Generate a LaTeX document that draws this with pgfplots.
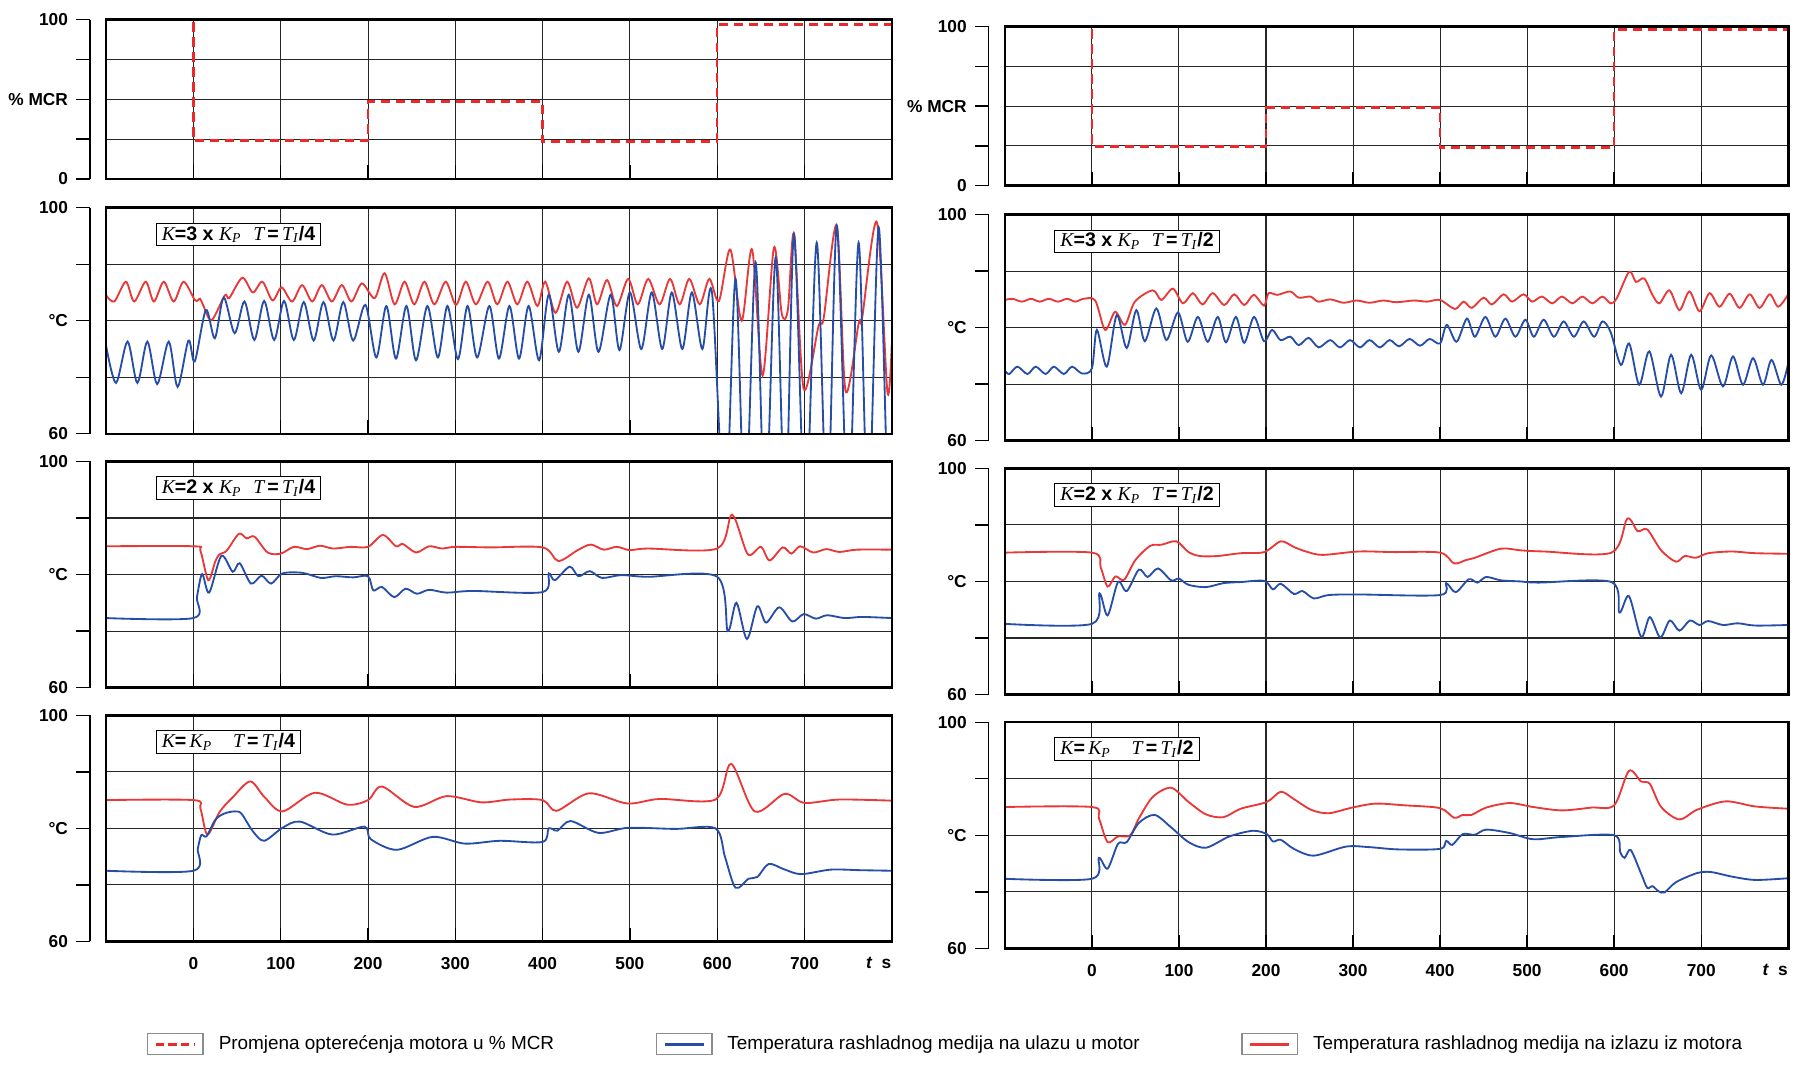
\documentclass[border=0pt]{standalone}
\usepackage{fontspec}
\setmainfont{Liberation Sans}
\newfontfamily\tnr{Liberation Serif}
\usepackage{pgfplots}
\pgfplotsset{compat=1.18}
\definecolor{cred}{RGB}{232,56,56}
\definecolor{cblue}{RGB}{38,78,168}
\definecolor{cload}{RGB}{238,40,40}
\newcommand{\Kk}{{\tnr\mdseries\itshape K}}
\newcommand{\Kp}{{\tnr\mdseries\itshape K\textsubscript{P}}}
\newcommand{\Tt}{{\tnr\mdseries\itshape T}}
\newcommand{\Ti}{{\tnr\mdseries\itshape T\textsubscript{I}}}
\pgfplotsset{
  panel/.style={
    scale only axis,
    xmin=-100, xmax=800,
    axis x line=bottom, axis y line=left,
    axis y line shift=7pt,
    x axis line style={draw=none},
    y axis line style={-, black, line width=0.6pt},
    xtick={0,100,...,700}, xticklabels={},
    xtick align=inside, ytick align=outside,
    major tick length=6pt,
    tick style={black, line width=0.6pt},
    xmajorgrids, ymajorgrids,
    major grid style={black!85, line width=0.45pt},
    tick label style={font=\fontsize{7.5}{9}\selectfont\bfseries},
    xticklabel style={yshift=-3.5pt},
    extra description/.code={\draw[black, line width=1.1pt] (0,0) rectangle (1,1);},
    every axis plot/.append style={line width=0.8pt},
  },
  tpanel/.style={panel, height=98pt, ymin=60, ymax=100, ytick={60,70,80,90,100}, yticklabels={60,,°C,,100}},
  lpanel/.style={panel, height=69pt, ymin=0, ymax=100, ytick={0,25,50,75,100}, yticklabels={0,,\% MCR,,100}},
  bottomrow/.style={xticklabels={0,100,200,300,400,500,600,700},
    extra x ticks={785}, extra x tick labels={{\itshape t}\ \ s},
    extra x tick style={grid=none, major tick length=0pt, tick style={draw=none}}},
}
\tikzset{tline/.style={smooth, tension=0.5, line width=0.8pt},
  anno/.style={draw=black, line width=0.4pt, fill=white, anchor=north west, inner xsep=2.5pt, inner ysep=1.2pt, font=\fontsize{8.5}{10}\selectfont\bfseries}}
\begin{document}
\begin{tikzpicture}
% ================= LEFT COLUMN =================
\begin{axis}[lpanel, width=340.5pt, at={(46pt,-8.5pt)}, anchor=north west]
\addplot[cload, line width=1.1pt, dash pattern=on 4pt off 2.5pt] coordinates {(-100,100)(0,100)(0,24)(200,24)(200,48.5)(400,48.5)(400,23.5)(600,23.5)(600,97)(800,97)};
\end{axis}

\begin{axis}[tpanel, width=340.5pt, at={(46pt,-90pt)}, anchor=north west]
\addplot[cred, tline] coordinates {(-100,84.5)(-90.6,83.4)(-77.4,86.9)(-67.9,83.4)(-54.7,86.9)(-45.3,83.4)(-34,86.9)(-22.6,83.4)(-11.3,86.9)(2,83.6)(7.5,83.9)(11,82.8)(20.8,80.1)(36,84.5)(41,84)(56,87.6)(68,85)(79,86.9)(90.6,83.6)(101,85.9)(113,83.4)(124.5,86.3)(136,83.4)(147,86.3)(158.5,83.4)(170,86.3)(181,83.4)(193,86.6)(207.6,84)(219,88.4)(230.4,82.9)(241.8,86.9)(253,82.9)(264.6,86.9)(276,82.9)(289,86.9)(300.8,82.8)(312,86.9)(323.6,82.9)(337,86.9)(348,82.9)(359.7,86.9)(371,82.9)(382.5,86.9)(394,82.6)(403,86.9)(414.8,81.4)(428,86.9)(439.5,82.3)(452.9,87.5)(462.4,82.9)(473.8,87.2)(485,82.6)(498,87.4)(509,82.9)(521,87.4)(534,82.9)(546,87.4)(557,82.9)(568,87.4)(580,82.9)(591,87.4)(602,83.5)(615,92.6)(628,80)(640,92.6)(652,70.3)(665,92.9)(674,81.2)(681,82)(688,95.3)(699,68)(716,79)(722,80.5)(737,96.8)(747,67.6)(762,79.5)(766,80.5)(783,97.4)(795,67.4)(800,76)};
\addplot[cblue, tline] coordinates {(-100,75.5)(-88.7,69.0)(-75.5,76.3)(-64.2,69)(-52.8,76.3)(-41.5,68.8)(-28.3,76.3)(-18.1,68.3)(-5.7,76.5)(1.5,72.8)(14.3,81.9)(24.5,76.9)(34.7,84.1)(47.2,77.8)(58.5,83.4)(69.8,76.6)(81,83.5)(92.5,76.6)(103.8,83.5)(115,76.6)(126.4,83.3)(137.7,76.5)(149,83.3)(160.4,76.5)(171.7,83.3)(183,76.5)(197,82.8)(209.5,73.5)(221,82.6)(232,73.3)(244,82.6)(255,73.0)(268,82.6)(280,73.5)(291,82.6)(303,73.2)(314,82.6)(325,73.5)(339,82.6)(350,73.3)(362,82.6)(373,73.3)(384,82.6)(396,73.0)(407,84.6)(418.6,74.5)(430,84.6)(441,74.5)(453,84.6)(464,74.5)(478,84.6)(488,74.8)(500,85)(513,75)(525,85)(537,75)(548,85)(560,75)(571,85)(583,75)(594,85)(609,45)(621,87.4)(632,45)(644,90.3)(655,45)(667,91.2)(678,45)(688,95.3)(701,45)(714,93.8)(726,45)(737,96.8)(750,45)(762,93.8)(773,45)(785,96.5)(796,45)(800,52)};
\node[anno] at (rel axis cs:0.063,0.934) {\Kk=3 x \Kp\hspace{5pt}\Tt\,=\,\Ti/4};
\end{axis}

\begin{axis}[tpanel, width=340.5pt, at={(46pt,-200pt)}, anchor=north west]
\addplot[cred, tline] coordinates {(-100,85)(0,85)(8,84.2)(17,79.0)(25,82.3)(30,83.6)(38,84.2)(52,87.2)(61,86.4)(70,86.7)(85,83.9)(100,83.7)(115,84.9)(130,84.5)(145,85.1)(160,84.6)(180,84.9)(200,84.9)(217,87.0)(232,85.0)(240,85.4)(255,83.9)(270,85.0)(285,84.6)(300,84.9)(340,84.8)(400,84.8)(418,82.4)(440,84.3)(455,85.3)(470,84.4)(485,84.9)(500,84.3)(520,84.6)(600,84.6)(617,90.6)(635,83.6)(650,84.9)(660,82.5)(675,84.8)(685,83.7)(695,85.0)(710,83.9)(725,84.5)(740,84.0)(760,84.4)(800,84.4)};
\addplot[cblue, tline] coordinates {(-100,72.3)(0,72.3)(4,76)(10,80.1)(18,76.8)(32,83.3)(45,80.5)(53,82.0)(66,78.4)(78,79.8)(89,78.4)(102,80.2)(125,80.3)(146,79.4)(163,79.7)(183,79.5)(200,79.7)(206,77.2)(216,77.8)(230,76.0)(243,77.5)(256,76.6)(270,77.3)(290,76.8)(320,77.1)(400,76.9)(407,80.2)(414,79.0)(431,81.4)(441,79.7)(454,80.6)(468,79.4)(490,79.9)(520,79.6)(600,79.6)(612,70.0)(622,75.0)(634,68.6)(646,74.4)(656,71.5)(671,74.2)(686,71.7)(699,73.0)(713,72.2)(726,72.8)(746,72.3)(766,72.5)(800,72.3)};
\node[anno] at (rel axis cs:0.063,0.934) {\Kk=2 x \Kp\hspace{5pt}\Tt\,=\,\Ti/4};
\end{axis}

\begin{axis}[tpanel, bottomrow, width=340.5pt, at={(46pt,-310pt)}, anchor=north west,
  legend style={at={(0.0514,-0.454)}, anchor=west, draw=none, fill=none, inner sep=0pt, legend columns=3,
    font=\fontsize{8.2}{9.8}\selectfont,
    /tikz/every odd column/.append style={column sep=4.5pt},
    /tikz/every even column/.append style={column sep=42pt}},
  legend image code/.code={\draw[black!45, line width=0.6pt, fill=white, solid] (0pt,-4.5pt) rectangle (24pt,4.5pt); \draw[#1, line width=1.3pt] (3.5pt,0pt) -- (20.5pt,0pt);}]
\addplot[cred, tline, forget plot] coordinates {(-100,85)(0,85)(8,83.5)(16,78.9)(30,82.9)(45,85.5)(65,88.3)(81,85.6)(102,83.0)(139,86.3)(176,84.2)(200,85.0)(216,87.4)(253,83.8)(290,85.7)(330,84.6)(363,85.1)(400,85.0)(416,83.1)(453,86.2)(497,84.4)(534,85.2)(598,85.1)(616,91.4)(643,83.0)(677,86.1)(700,84.5)(740,85.1)(800,84.9)};
\addplot[cblue, tline, forget plot] coordinates {(-100,72.5)(0,72.5)(5,76.4)(9,78.8)(15,78.6)(25,81.5)(35,82.6)(47,83.0)(55,82.6)(68,79.5)(81,77.8)(102,80.1)(122,81.2)(159,78.9)(196,80.3)(203,78.1)(233,76.2)(274,78.5)(311,77.3)(351,77.8)(400,77.6)(407,80.0)(417,79.6)(432,81.3)(464,79.2)(498,80.1)(552,79.9)(598,80.0)(609,74.9)(621,69.5)(636,71.1)(646,71.4)(659,73.7)(676,72.8)(696,71.9)(730,72.7)(764,72.6)(800,72.5)};
\node[anno] at (rel axis cs:0.063,0.934) {\Kk=\,\Kp\hspace{9pt}\Tt\,=\,\Ti/4};
\addlegendimage{cload, dash pattern=on 3.5pt off 2pt}
\addlegendentry{Promjena opterećenja motora u \% MCR}
\addlegendimage{cblue}
\addlegendentry{Temperatura rashladnog medija na ulazu u motor}
\addlegendimage{cred}
\addlegendentry{Temperatura rashladnog medija na izlazu iz motora}
\end{axis}

% ================= RIGHT COLUMN =================
\begin{axis}[lpanel, width=339.5pt, at={(435.5pt,-11.5pt)}, anchor=north west]
\addplot[cload, line width=1.1pt, dash pattern=on 4pt off 2.5pt] coordinates {(-100,100)(0,100)(0,24.5)(200,24.5)(200,49)(400,49)(400,24)(600,24)(600,98)(800,98)};
\end{axis}

\begin{axis}[tpanel, width=339.5pt, at={(435.5pt,-93pt)}, anchor=north west]
\addplot[cred, tline] coordinates {(-100,84.9)(-91,85.1)(-80.6,84.6)(-70,85.1)(-60,84.6)(-49.4,85.1)(-39,84.6)(-28.5,85.1)(-19,84.6)(-9.5,85.1)(3.8,84.8)(15.2,79.6)(26.6,82.8)(38,80.5)(49.4,84.6)(70,86.6)(79.8,84.9)(93,86.9)(104.6,84.3)(116,86.1)(127,84.1)(138.8,86.1)(152,84)(163.5,85.9)(175,84)(186,85.8)(197.7,83.9)(203,86.1)(213,85.8)(228,86.4)(237.6,85.3)(251,85.5)(260,84.6)(274,85.0)(289,84.4)(304,84.8)(319,84.4)(334.6,84.8)(350,84.5)(370,84.8)(385,84.6)(400,84.9)(417,83.3)(427,84.6)(436.5,83.5)(450,85.3)(459.6,84.1)(473,85.9)(482.7,84.6)(496,85.9)(505.8,84.6)(517,85.5)(528.8,84.3)(540,85.5)(552,84.3)(563.5,85.5)(575,84.3)(586.5,85.5)(596,84.3)(603,85.2)(617.3,89.9)(625,88.1)(634.6,88.7)(644,85.8)(652,84.3)(663.5,86.6)(675,83.1)(686.5,86.4)(698,82.9)(709.6,86.1)(721,83.7)(732.7,86.0)(744,83.5)(755.8,85.9)(767,83.5)(778.8,85.9)(788.5,83.7)(800,85.9)};
\addplot[cblue, tline] coordinates {(-100,72.4)(-95,71.8)(-85.6,73.1)(-74.1,71.8)(-64.6,73.1)(-53.2,71.8)(-43.7,73.1)(-32.3,71.8)(-22.8,73.1)(-11.4,71.9)(0,72.8)(5.7,79.6)(17.1,73.1)(28.5,82.2)(40,76.4)(51,83.1)(60.8,77.6)(74,83.4)(85.6,77.8)(98.9,82.7)(110,77.5)(121.7,81.9)(133,77.5)(144.5,81.9)(154,77.4)(165.4,81.9)(175,77.3)(186.3,81.9)(197.7,77.6)(207,79.6)(216.7,77.8)(228,78.4)(237.6,76.9)(249,78.2)(260.5,76.5)(273.8,77.8)(285,76.5)(296.6,77.8)(308,76.5)(319,77.8)(330.8,76.5)(342,77.8)(353,76.7)(365,78.0)(377,76.8)(388,78.0)(400,77.2)(407.7,80.5)(419,77.5)(430.8,81.6)(440,78.4)(452,81.9)(463.5,78.4)(475,81.6)(486.5,78.4)(498,81.4)(507.7,78.4)(519,81.4)(530.8,78.4)(542,81.1)(553.8,78.4)(565,81.1)(577,78.4)(586.5,81.1)(596,79.2)(607.7,73.4)(617.3,77.2)(628.8,69.9)(640.4,75.8)(653.8,67.8)(665.4,75.2)(677,68.4)(688.5,75.2)(700,69)(711.5,75.1)(725,69.6)(736.5,74.9)(748,69.9)(759.6,74.6)(771,69.9)(780.8,74.3)(792,69.9)(800,73.7)};
\node[anno] at (rel axis cs:0.063,0.934) {\Kk=3 x \Kp\hspace{5pt}\Tt\,=\,\Ti/2};
\end{axis}

\begin{axis}[tpanel, width=339.5pt, at={(435.5pt,-203pt)}, anchor=north west]
\addplot[cred, tline] coordinates {(-100,85.1)(0,85.1)(10,82.5)(18,79.1)(27,80.9)(37,80.3)(50,83.8)(67,86.3)(80,86.5)(97,87.1)(111,85.2)(124,84.5)(144,84.5)(171,85.0)(198,85.2)(217,87.1)(232,86.1)(246,85.3)(265,84.7)(306,85.3)(346,85.2)(400,85.1)(416,83.2)(430,83.8)(440,84.2)(470,85.8)(493,85.5)(520,85.3)(597,85.1)(615,91.1)(627,88.9)(638,89.2)(654,85.5)(671,83.5)(681,84.5)(694,84.2)(708,85.0)(735,85.3)(762,85.0)(800,84.9)};
\addplot[cblue, tline] coordinates {(-100,72.5)(0,72.5)(8.7,77.9)(18,74.0)(30,79.9)(40,78.3)(54,82.1)(64,80.8)(76,82.3)(91,80.2)(100,80.5)(111,79.4)(131,79.0)(151,79.7)(171,79.9)(198,80.1)(208,78.6)(217,79.6)(232,77.8)(242,78.3)(255,77.0)(272,77.6)(306,77.7)(400,77.6)(407,79.7)(418,78.1)(433,80.4)(443,79.8)(453,80.8)(470,80.2)(493,80.0)(513,79.8)(597,79.9)(606,74.5)(617,77.4)(631,70.2)(641,73.7)(653,70.1)(664,73.1)(675,71.3)(687,73.1)(698,72.3)(708,73.0)(725,72.3)(742,72.6)(762,72.2)(800,72.3)};
\node[anno] at (rel axis cs:0.063,0.934) {\Kk=2 x \Kp\hspace{5pt}\Tt\,=\,\Ti/2};
\end{axis}

\begin{axis}[tpanel, bottomrow, width=339.5pt, at={(435.5pt,-313pt)}, anchor=north west]
\addplot[cred, tline] coordinates {(-100,85)(0,85)(8,83)(18,78.8)(30,79.8)(44,80)(54,83.0)(70,86.8)(91,88.4)(111,85.9)(131,83.7)(151,83.2)(171,84.7)(201,85.9)(217,87.7)(232,86.4)(252,84.5)(272,83.9)(299,84.9)(326,85.6)(359,85.3)(400,84.8)(416,83.1)(426,83.6)(436,83.6)(453,84.9)(480,85.7)(507,85.0)(540,84.4)(574,84.9)(600,85.3)(617,91.4)(631,89.5)(641,89.1)(654,85.0)(675,82.8)(695,84.5)(728,86.0)(762,85.1)(800,84.7)};
\addplot[cblue, tline] coordinates {(-100,72.3)(0,72.3)(8,76.0)(18,74.1)(30,78.5)(40,78.8)(54,82.2)(72,83.6)(91,81.4)(111,78.8)(131,77.8)(158,79.8)(185,80.8)(201,80.2)(208,78.9)(217,79.2)(232,77.6)(255,76.4)(292,78.0)(319,77.9)(352,77.5)(400,77.6)(407,79.0)(414,78.3)(426,80.2)(440,80.1)(453,81.0)(480,80.4)(507,79.3)(540,79.7)(600,80.0)(607,77.0)(612,76.0)(619,77.4)(631,73.2)(638,70.7)(644,71.0)(651,70.1)(658,69.9)(671,71.7)(695,73.3)(711,73.5)(735,72.7)(762,72.1)(800,72.4)};
\node[anno] at (rel axis cs:0.063,0.934) {\Kk=\,\Kp\hspace{9pt}\Tt\,=\,\Ti/2};
\end{axis}

\pgfresetboundingbox
\useasboundingbox (0,0) rectangle (784pt,-462.5pt);
\end{tikzpicture}
\end{document}
